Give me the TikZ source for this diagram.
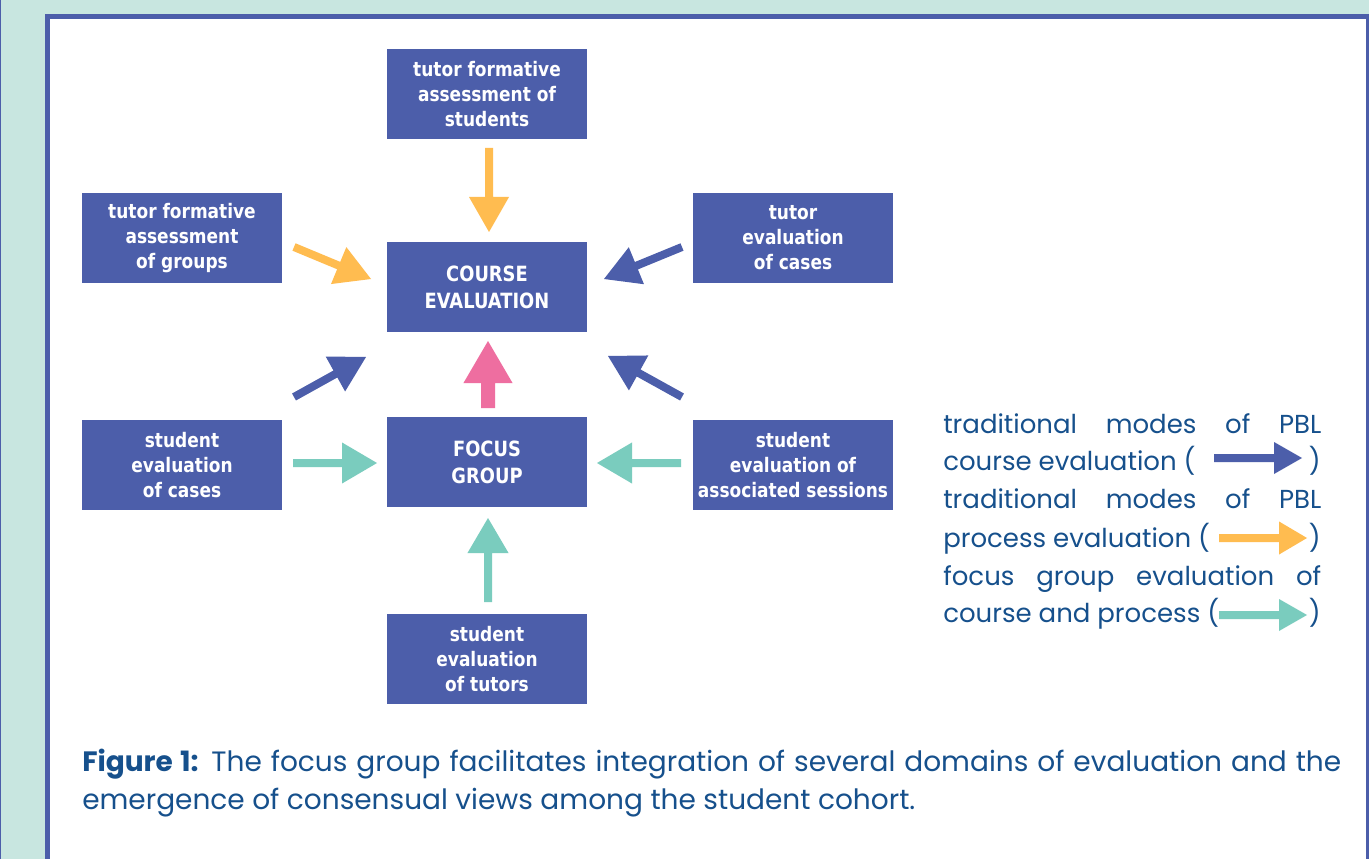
\documentclass[tikz,border=0pt]{standalone}
\usepackage{fontspec}
\usetikzlibrary{calc}
\newfontfamily\boxfont[FakeStretch=0.85]{DejaVu Sans}
\newfontfamily\capfont{Poppins}
\definecolor{bgteal}{RGB}{200,230,224}
\definecolor{boxblue}{RGB}{76,94,170}
\definecolor{arrorange}{RGB}{255,188,80}
\definecolor{arrteal}{RGB}{122,204,190}
\definecolor{arrpink}{RGB}{238,110,160}
\definecolor{txtblue}{RGB}{22,80,140}
\newcommand\blockarrow[6]{%
  \coordinate (ba-h) at ($(#3)!#5!(#2)$);
  \fill[#1] ($(#2)!#4!90:(#3)$) -- ($(ba-h)!#4!90:(#3)$) -- ($(ba-h)!#6!90:(#3)$) -- (#3)
    -- ($(ba-h)!#6!-90:(#3)$) -- ($(ba-h)!#4!-90:(#3)$) -- ($(#2)!#4!-90:(#3)$) -- cycle;}
\tikzset{
  bx/.style={fill=boxblue, minimum width=150pt, minimum height=67.5pt, inner sep=0pt,
    align=center, text=white, font=\boxfont\bfseries\fontsize{15}{18.75}\selectfont},
  bxcap/.style={bx, font=\boxfont\bfseries\fontsize{15.75}{20.25}\selectfont},
  leg/.style={anchor=base west, inner sep=0pt, text=txtblue, font=\capfont\fontsize{19.5}{26}\selectfont},
  legr/.style={leg, anchor=base east},
  capt/.style={leg, font=\capfont\fontsize{21}{27}\selectfont},
}
\begin{document}
\begin{tikzpicture}[x=0.75pt,y=-0.75pt]
\useasboundingbox (0,0) rectangle (1369,859);
% background frame
\fill[bgteal] (0,0) rectangle (1369,859);
\fill[boxblue] (0,0) rectangle (1.2,859);
\fill[boxblue] (45,14) rectangle (1369,859);
\fill[white] (50,19) rectangle (1366,859);

% boxes
\node[bx] (tstud) at (487,94) {tutor formative\\assessment of\\students};
\node[bxcap] (course) at (487,287) {COURSE\\EVALUATION};
\node[bx] (tgroup) at (182,238) {tutor formative\\assessment\\of groups};
\node[bx] (tcases) at (793,238) {tutor\\evaluation\\of cases};
\node[bx] (scases) at (182,465) {student\\evaluation\\of cases};
\node[bxcap] (focus) at (487,462) {FOCUS\\GROUP};
\node[bx] (ssess) at (793,465) {student\\evaluation of\\associated sessions};
\node[bx] (stut) at (487,659) {student\\evaluation\\of tutors};

% arrow end points
\coordinate (a1s) at (489,148);  \coordinate (a1t) at (489,232);
\coordinate (a2s) at (294,247);  \coordinate (a2t) at (371,279);
\coordinate (a3s) at (682,247);  \coordinate (a3t) at (604,279);
\coordinate (a4s) at (488,408);  \coordinate (a4t) at (488,341);
\coordinate (a5s) at (294,397);  \coordinate (a5t) at (366,357);
\coordinate (a6s) at (682,397);  \coordinate (a6t) at (608,356);
\coordinate (a7s) at (293,463);  \coordinate (a7t) at (377,463);
\coordinate (a8s) at (681,463);  \coordinate (a8t) at (597,463);
\coordinate (a9s) at (488,602);  \coordinate (a9t) at (488,518);

\blockarrow{arrorange}{a1s}{a1t}{3pt}{26.25pt}{15pt}
\blockarrow{arrorange}{a2s}{a2t}{3pt}{26.25pt}{15pt}
\blockarrow{boxblue}{a3s}{a3t}{3pt}{26.25pt}{15pt}
\blockarrow{arrpink}{a4s}{a4t}{5.25pt}{31.5pt}{18.4pt}
\blockarrow{boxblue}{a5s}{a5t}{3pt}{26.25pt}{15pt}
\blockarrow{boxblue}{a6s}{a6t}{3pt}{26.25pt}{15pt}
\blockarrow{arrteal}{a7s}{a7t}{3pt}{26.25pt}{15.4pt}
\blockarrow{arrteal}{a8s}{a8t}{3pt}{26.25pt}{15.4pt}
\blockarrow{arrteal}{a9s}{a9t}{3pt}{26.25pt}{15.4pt}

% legend
\node[leg] (l1) at (943,433) {\makebox[283.5pt][s]{traditional modes of PBL}};
\node[leg] (l2) at (943,470) {course evaluation (};
\node[legr] (l2r) at (1321,470) {)};
\node[leg] (l3) at (943,508) {\makebox[283.5pt][s]{traditional modes of PBL}};
\node[leg] (l4) at (943,547) {process evaluation (};
\node[legr] (l4r) at (1321,547) {)};
\node[leg] (l5) at (943,585) {\makebox[283.5pt][s]{focus group evaluation of}};
\node[leg] (l6) at (943,622) {course and process (};
\node[legr] (l6r) at (1321,622) {)};
\coordinate (k1s) at (1214,458); \coordinate (k1t) at (1302,458);
\coordinate (k2s) at (1219,538); \coordinate (k2t) at (1307,538);
\coordinate (k3s) at (1219,615); \coordinate (k3t) at (1307,615);
\blockarrow{boxblue}{k1s}{k1t}{3pt}{21pt}{12pt}
\blockarrow{arrorange}{k2s}{k2t}{3pt}{21pt}{12.4pt}
\blockarrow{arrteal}{k3s}{k3t}{3pt}{21pt}{12pt}

% caption
\node[capt] (cap1) at (82,771) {\makebox[944.25pt][s]{{\bfseries Figure 1:} The focus group facilitates integration of several domains of evaluation and the}};
\node[capt] (cap2) at (82,809) {emergence of consensual views among the student cohort.};
\end{tikzpicture}
\end{document}
